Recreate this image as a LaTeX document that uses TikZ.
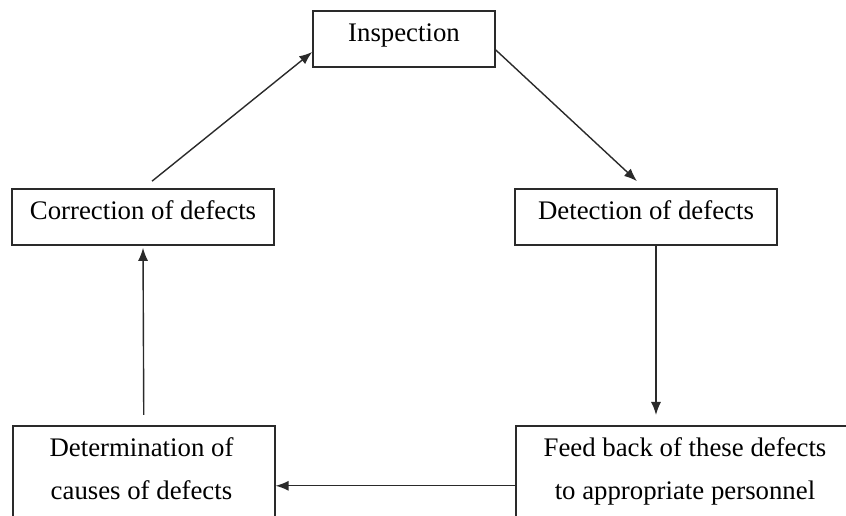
\documentclass[tikz,border=0pt]{standalone}
\usepackage{fontspec}
\setmainfont{Liberation Serif}
\usetikzlibrary{arrows.meta,calc}
\definecolor{edge}{HTML}{2A2A2A}
\tikzset{
  boxstyle/.style={draw=edge, line width=1.6pt, rectangle, inner sep=0pt,
    text height=18pt, text depth=12pt, font=\fontsize{26.8}{43}\selectfont},
  bigbox/.style={draw=edge, line width=1.6pt, rectangle, inner sep=0pt,
    minimum width=#1, minimum height=120pt, anchor=north west},
  txt/.style={inner sep=0pt, align=center, font=\fontsize{26.8}{43}\selectfont},
  conn/.style={draw=edge, line width=1.4pt, -{Latex[length=13pt,width=10pt]}}
}
\begin{document}
\begin{tikzpicture}[x=1pt,y=1pt]
\useasboundingbox (0,0) rectangle (846,516);
\clip (0,0) rectangle (846,516);
\node[boxstyle, minimum width=182pt, minimum height=56pt] (insp) at (404,477) {Inspection};
\node[boxstyle, minimum width=262pt, minimum height=56pt] (corr) at (143,299) {Correction of defects};
\node[boxstyle, minimum width=262pt, minimum height=56pt] (det) at (646,299) {Detection of defects};
\node[bigbox=262pt] (determ) at (12,91) {};
\node[bigbox=400pt] (fb) at (515,91) {};
\node[txt] (determtext) at (141.5,47.6) {Determination of\\causes of defects};
\node[txt] (fbtext) at (685,44.8) {Feed back of these defects\\to appropriate personnel};
\draw[conn] ([xshift=9pt,yshift=7pt]corr.north) -- ([yshift=-13pt]insp.west);
\draw[conn] ([yshift=-11pt]insp.east) -- ([xshift=-9pt,yshift=7pt]det.north);
\draw[conn, shorten >=10pt] ([xshift=10pt]det.south) -- ([xshift=10pt]det.south |- fb.north);
\draw[conn] (fb.west) -- (determ.east);
\draw[conn, shorten <=10pt, shorten >=2pt] (determ.north) -- (corr.south);
\end{tikzpicture}
\end{document}
